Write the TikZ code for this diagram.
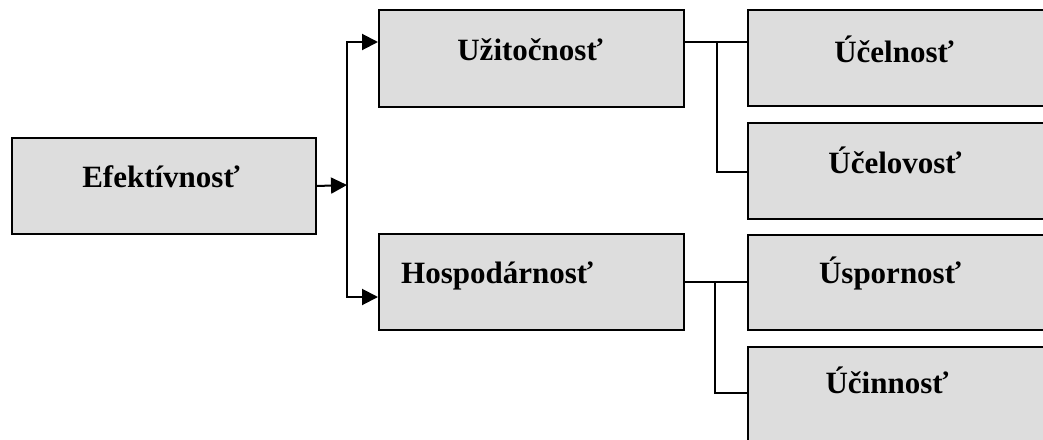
\documentclass[tikz,border=0pt]{standalone}
\usepackage{fontspec}
\setmainfont{Liberation Serif}
\usetikzlibrary{arrows.meta}
\definecolor{boxgray}{RGB}{221,221,221}
\tikzset{
  box/.style={draw=black, fill=boxgray, line width=2pt, rectangle, inner sep=0pt, anchor=north west},
  lbl/.style={anchor=base, inner sep=0pt, font=\bfseries\fontsize{31}{36}\selectfont},
  conn/.style={line width=2pt, line join=miter},
  arr/.style={conn, -{Triangle[length=16pt,width=16pt]}}
}
\begin{document}
\begin{tikzpicture}[x=1pt,y=-1pt]
\useasboundingbox (0,0) rectangle (1043,439);
% boxes
\node[box, minimum width=304pt, minimum height=96pt] (ef) at (11,137) {};
\node[box, minimum width=305pt, minimum height=97pt] (u) at (378,9) {};
\node[box, minimum width=305pt, minimum height=96pt] (h) at (378,233) {};
\node[box, minimum width=310pt, minimum height=96pt] (c1) at (747,9) {};
\node[box, minimum width=310pt, minimum height=96pt] (c2) at (747,122) {};
\node[box, minimum width=310pt, minimum height=95pt] (c3) at (747,234) {};
\node[box, minimum width=310pt, minimum height=96pt] (c4) at (747,346) {};
% labels
\node[lbl] (tef) at (161,187) {Efektívnosť};
\node[lbl] (tu) at (530,60) {Užitočnosť};
\node[lbl, anchor=base west] (th) at (401,283) {Hospodárnosť};
\node[lbl] (tc1) at (894,62) {Účelnosť};
\node[lbl] (tc2) at (895,173) {Účelovosť};
\node[lbl] (tc3) at (890,283) {Úspornosť};
\node[lbl] (tc4) at (887,393) {Účinnosť};
% connector coordinates
\coordinate (j1) at (347,185);
\coordinate (ua) at (378,42);
\coordinate (ha) at (378,297);
\coordinate (uo) at (683,42);
\coordinate (ju) at (717,42);
\coordinate (c1a) at (747,42);
\coordinate (c2a) at (747,172);
\coordinate (ho) at (683,282);
\coordinate (jh) at (715,282);
\coordinate (c3a) at (747,282);
\coordinate (c4a) at (747,393);
% connectors
\draw[arr] (ef.east) -- (j1);
\draw[arr] (j1) |- (ua);
\draw[arr] (j1) |- (ha);
\draw[conn] (uo) -- (c1a);
\draw[conn] (ju) |- (c2a);
\draw[conn] (ho) -- (c3a);
\draw[conn] (jh) |- (c4a);
\end{tikzpicture}
\end{document}
